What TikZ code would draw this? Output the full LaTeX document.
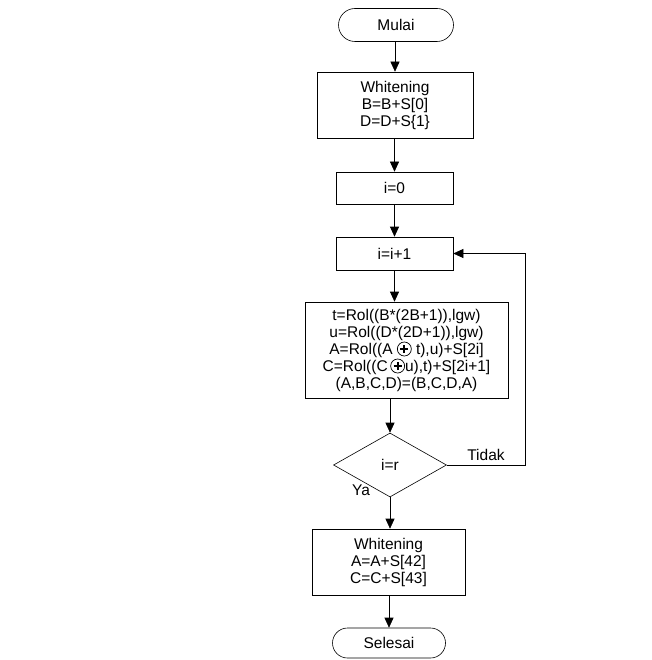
\documentclass[tikz,border=0pt]{standalone}
\usepackage{fontspec}
\setmainfont{Liberation Sans}
\usetikzlibrary{arrows.meta,shapes.geometric,shapes.misc}
\newcommand{\cplus}{\tikz[x=1pt,y=1pt,baseline={(0,-5pt)}]{\draw[line width=0.7pt] (0,0) circle[radius=7pt]; \draw[line width=1.8pt] (-4,0)--(4,0) (0,-4)--(0,4);}}
\begin{document}
\begin{tikzpicture}[x=1pt,y=-1pt,
  txt/.style={font=\fontsize{15.5}{17}\selectfont,align=center},
  term/.style={txt,draw,rounded rectangle,line width=0.6pt,inner sep=0pt},
  proc/.style={txt,draw,rectangle,line width=0.6pt,inner sep=0pt},
  dec/.style={txt,draw,diamond,line width=0.6pt,inner sep=0pt},
  flow/.style={line width=0.6pt,-{Triangle[length=10pt,width=9pt]}},
  lab/.style={font=\fontsize{15.5}{17}\selectfont}]
\useasboundingbox (0,0) rectangle (651,660);
\node[term,minimum width=115pt,minimum height=33pt] (mulai) at (396,25) {Mulai};
\node[proc,minimum width=156pt,minimum height=66pt] (w1) at (395,105) {Whitening\\B=B+S[0]\\D=D+S{\{}1{\}}};
\node[proc,minimum width=117pt,minimum height=32pt] (i0) at (394.5,188) {i=0};
\node[proc,minimum width=117pt,minimum height=33pt] (inc) at (394.5,253.5) {i=i+1};
\node[proc,minimum width=203pt,minimum height=96pt] (big) at (406.5,350) {t=Rol((B*(2B+1)),lgw)\\u=Rol((D*(2D+1)),lgw)\\A=Rol((A \cplus{} t),u)+S[2i]\\C=Rol((C\,\cplus{}u),t)+S[2i+1]\\(A,B,C,D)=(B,C,D,A)};
\node[dec,minimum width=113pt,minimum height=64pt] (dia) at (390,465) {i=r};
\node[proc,minimum width=153pt,minimum height=66pt] (w2) at (388.5,562) {Whitening\\A=A+S[42]\\C=C+S[43]};
\node[term,minimum width=113pt,minimum height=30pt] (sel) at (389,643) {Selesai};
\coordinate (r1) at (525,465);
\coordinate (r2) at (525,253.5);
\draw[flow] (mulai.south -| w1.north) -- (w1.north);
\draw[flow] (w1.south -| i0.north) -- (i0.north);
\draw[flow] (i0.south) -- (inc.north);
\draw[flow] (inc.south) -- (inc.south |- big.north);
\draw[flow] (dia.north |- big.south) -- (dia.north);
\draw[flow] (dia.south) -- (dia.south |- w2.north);
\draw[flow] (w2.south -| sel.north) -- (sel.north);
\draw[flow] (dia.east) -- (r1) -- (r2) -- (inc.east);
\node[lab] (tidak) at (486,455) {Tidak};
\node[lab] (ya) at (361,490) {Ya};
\end{tikzpicture}
\end{document}
